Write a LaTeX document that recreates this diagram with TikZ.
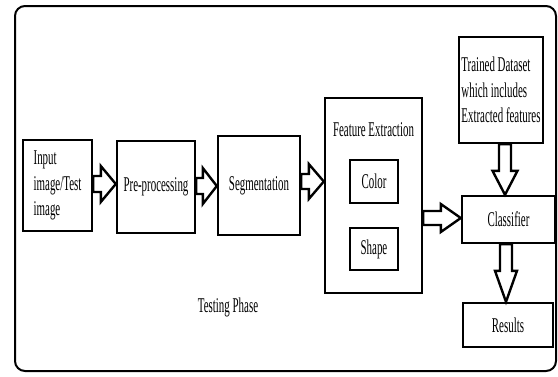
\documentclass[tikz,border=0pt]{standalone}
\usepackage{fontspec}
\setmainfont{Liberation Serif}[FakeStretch=0.52]
\usetikzlibrary{calc}
\tikzset{
  box/.style={draw, line width=2.4pt, fill=white, inner sep=0pt, align=left,
    font=\fontsize{21}{25.5}\selectfont},
  txt/.style={inner sep=0pt, font=\fontsize{21}{25}\selectfont},
  barrow/.style={draw, line width=2.4pt, fill=white, line join=miter},
  harrow/.style n args={3}{to path={let \p1=(\tikztostart), \p2=(\tikztotarget) in
    (\x1,\y1+#1) -- (\x2-#3,\y1+#1) -- (\x2-#3,\y1+#2) -- (\x2,\y1)
    -- (\x2-#3,\y1-#2) -- (\x2-#3,\y1-#1) -- (\x1,\y1-#1) -- cycle}},
  varrow/.style n args={3}{to path={let \p1=(\tikztostart), \p2=(\tikztotarget) in
    (\x1+#1,\y1) -- (\x1+#1,\y2+#3) -- (\x1+#2,\y2+#3) -- (\x1,\y2)
    -- (\x1-#2,\y2+#3) -- (\x1-#1,\y2+#3) -- (\x1-#1,\y1) -- cycle}}
}
\begin{document}
\begin{tikzpicture}[x=1pt, y=-1pt]
\useasboundingbox (0,0) rectangle (558,376);
\draw[line width=2pt, rounded corners=10pt] (15,6) rectangle (556,371);

\node[box, minimum width=69pt, minimum height=91pt] (input) at (57.5,185.5) {Input\\image/Test\\image};
\node[box, minimum width=78pt, minimum height=92pt] (pre) at (156,187) {Pre-processing};
\node[box, minimum width=82pt, minimum height=99pt] (seg) at (259,185.5) {Segmentation};
\node[box, minimum width=97pt, minimum height=195pt] (fe) at (373.5,195.5) {};
\node[txt] (fetitle) at (373.5,130) {Feature Extraction};
\node[box, minimum width=48pt, minimum height=43pt] (color) at (374,181.5) {Color};
\node[box, minimum width=48pt, minimum height=42pt] (shape) at (374,249) {Shape};
\node[box, minimum width=84pt, minimum height=106pt] (trained) at (501,90) {Trained Dataset\\which includes\\Extracted features};
\node[box, minimum width=93pt, minimum height=47pt] (classifier) at (508.5,219.5) {Classifier};
\node[box, minimum width=90pt, minimum height=44pt] (results) at (508,325) {Results};
\node[txt] (phase) at (228,307) {Testing Phase};

\coordinate (a1) at ($(input.east)+(0,-1.5)$);
\draw[barrow] (a1) to[harrow={8pt}{18pt}{15pt}] (pre.west);
\coordinate (a2) at ($(pre.east)+(0,-1)$);
\draw[barrow] (a2) to[harrow={8pt}{18pt}{14pt}] (seg.west);
\coordinate (a3) at ($(seg.east)+(0,-4)$);
\draw[barrow] (a3) to[harrow={7.5pt}{17.5pt}{15pt}] (fe.west);
\coordinate (a4) at ($(fe.east)+(0,22.5)$);
\draw[barrow] (a4) to[harrow={7pt}{14pt}{20pt}] (classifier.west);
\coordinate (a5) at ($(trained.south)+(4,0)$);
\draw[barrow] (a5) to[varrow={6pt}{12.5pt}{24pt}] (classifier.north);
\coordinate (a6) at ($(classifier.south)+(-2.5,0)$);
\draw[barrow] (a6) to[varrow={6pt}{11pt}{31pt}] (results.north);
\end{tikzpicture}
\end{document}
